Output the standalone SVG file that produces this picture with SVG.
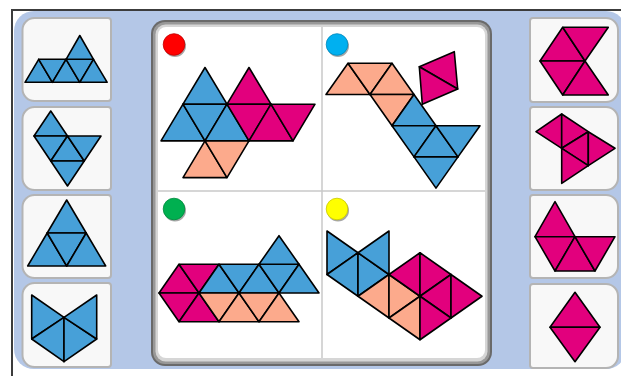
<svg xmlns="http://www.w3.org/2000/svg" width="621" height="376" viewBox="0 0 621 376">
<defs>
<style>
polygon{stroke:#000;stroke-width:1.6;stroke-linejoin:round}
.b{fill:#47A0D8}
.p{fill:#E2007D}
.o{fill:#FCAA8C}
.card{fill:#F8F8F8;stroke:#B4B4B4;stroke-width:2}
.cardin{fill:none;stroke:#E2E2E2;stroke-width:1}
.div{stroke:#C8C8C8;stroke-width:1.5}
.sh{fill:#000;opacity:.35}
</style>
</defs>
<rect x="0" y="0" width="621" height="376" fill="#FFFFFF"/>
<rect x="14" y="11" width="612" height="358" rx="20" fill="#B4C7E7"/>
<path d="M12 376 V10 H621" fill="none" stroke="#3C3C3C" stroke-width="2"/>

<!-- left cards -->
<g id="left-card-1">
<path class="card" d="M34.5 18 H108 Q111 18 111 21 V98 Q111 101 108 101 H34.5 A12 12 0 0 1 22.5 89 V30 A12 12 0 0 1 34.5 18 Z"/>
<polygon class="b" points="38.7,59.3 25,82.3 52.4,82.3"/>
<polygon class="b" points="38.7,59.3 66.1,59.3 52.4,82.3"/>
<polygon class="b" points="66.1,59.3 52.4,82.3 79.8,82.3"/>
<polygon class="b" points="66.1,59.3 93.5,59.3 79.8,82.3"/>
<polygon class="b" points="93.5,59.3 79.8,82.3 107.2,82.3"/>
<polygon class="b" points="79.8,35.5 66.1,59.3 93.5,59.3"/>
</g>
<g id="left-card-2">
<path class="card" d="M34.5 107 H108 Q111 107 111 110 V187 Q111 190 108 190 H34.5 A12 12 0 0 1 22.5 178 V119 A12 12 0 0 1 34.5 107 Z"/>
<polygon class="b" points="50.75,111 34,136 67.5,136"/>
<polygon class="b" points="34,136 67.5,136 50.75,161"/>
<polygon class="b" points="67.5,136 50.75,161 84.25,161"/>
<polygon class="b" points="67.5,136 101,136 84.25,161"/>
<polygon class="b" points="50.75,161 84.25,161 67.5,186"/>
</g>
<g id="left-card-3">
<path class="card" d="M34.5 195 H108 Q111 195 111 198 V275 Q111 278 108 278 H34.5 A12 12 0 0 1 22.5 266 V207 A12 12 0 0 1 34.5 195 Z"/>
<polygon class="b" points="66.7,200 47.2,233 86.2,233"/>
<polygon class="b" points="47.2,233 27.7,266 66.7,266"/>
<polygon class="b" points="47.2,233 86.2,233 66.7,266"/>
<polygon class="b" points="86.2,233 66.7,266 105.7,266"/>
</g>
<g id="left-card-4">
<path class="card" d="M34.5 283 H108 Q111 283 111 286 V364 Q111 367 108 367 H34.5 A12 12 0 0 1 22.5 355 V295 A12 12 0 0 1 34.5 283 Z"/>
<polygon class="b" points="31.7,295 64,317.3 31.7,339"/>
<polygon class="b" points="31.7,339 64,317.3 64,361.7"/>
<polygon class="b" points="64,317.3 96.7,339 64,361.7"/>
<polygon class="b" points="64,317.3 96.7,295 96.7,339"/>
</g>

<!-- right cards -->
<g id="right-card-1">
<path class="card" d="M533 18 H606 A12 12 0 0 1 618 30 V90 A12 12 0 0 1 606 102 H533 Q530 102 530 99 V21 Q530 18 533 18 Z"/>
<polygon class="p" points="562.7,27.3 540,61 585,61"/>
<polygon class="p" points="562.7,27.3 608.3,27.3 585,61"/>
<polygon class="p" points="540,61 585,61 562.7,95"/>
<polygon class="p" points="585,61 562.7,95 608.3,95"/>
</g>
<g id="right-card-2">
<path class="card" d="M533 107 H606 A12 12 0 0 1 618 119 V178 A12 12 0 0 1 606 190 H533 Q530 190 530 187 V110 Q530 107 533 107 Z"/>
<polygon class="p" points="561.7,114 536,131.7 561.7,148.3"/>
<polygon class="p" points="561.7,114 588.3,131.7 561.7,148.3"/>
<polygon class="p" points="588.3,131.7 561.7,148.3 588.3,165.7"/>
<polygon class="p" points="588.3,131.7 615,148.3 588.3,165.7"/>
<polygon class="p" points="561.7,148.3 588.3,165.7 561.7,183.3"/>
</g>
<g id="right-card-3">
<path class="card" d="M533 195 H606 A12 12 0 0 1 618 207 V266 A12 12 0 0 1 606 278 H533 Q530 278 530 275 V198 Q530 195 533 195 Z"/>
<polygon class="p" points="555,201.7 535,236.7 575,236.7"/>
<polygon class="p" points="535,236.7 575,236.7 555,271"/>
<polygon class="p" points="575,236.7 555,271 595,271"/>
<polygon class="p" points="575,236.7 615,236.7 595,271"/>
</g>
<g id="right-card-4">
<path class="card" d="M533 284 H606 A12 12 0 0 1 618 296 V356 A12 12 0 0 1 606 368 H533 Q530 368 530 365 V287 Q530 284 533 284 Z"/>
<polygon class="p" points="575,292.3 550,327.3 600,327.3"/>
<polygon class="p" points="550,327.3 600,327.3 575,361.7"/>
</g>

<!-- central board -->
<g id="board">
<rect x="151" y="20" width="341" height="346" rx="14" fill="#6A6A6A"/>
<rect x="153" y="22" width="337" height="342" rx="12" fill="#989898"/>
<rect x="155.5" y="24.5" width="332" height="337" rx="10" fill="#D6D6D6"/>
<rect x="158" y="27" width="327" height="331" rx="8" fill="#FFFFFF"/>
<line class="div" x1="322" y1="27" x2="322" y2="358"/>
<line class="div" x1="158" y1="191" x2="485" y2="191"/>
</g>

<g id="quadrant-red">
<circle class="sh" cx="175" cy="46" r="11"/>
<circle cx="174" cy="44.5" r="10.8" fill="#FF0000" stroke="#C00000" stroke-width="0.8"/>
<polygon class="b" points="205,67.5 183,104.2 227,104.2"/>
<polygon class="b" points="183,104.2 161,140.9 205,140.9"/>
<polygon class="b" points="183,104.2 227,104.2 205,140.9"/>
<polygon class="b" points="227,104.2 205,140.9 249,140.9"/>
<polygon class="p" points="249,67.5 227,104.2 271,104.2"/>
<polygon class="p" points="227,104.2 271,104.2 249,140.9"/>
<polygon class="p" points="271,104.2 249,140.9 293,140.9"/>
<polygon class="p" points="271,104.2 315,104.2 293,140.9"/>
<polygon class="o" points="205,140.9 183,177.6 227,177.6"/>
<polygon class="o" points="205,140.9 249,140.9 227,177.6"/>
</g>

<g id="quadrant-cyan">
<circle class="sh" cx="338" cy="46" r="11"/>
<circle cx="337" cy="44.5" r="10.8" fill="#00B0F0" stroke="#0088BB" stroke-width="0.8"/>
<polygon class="o" points="348,63.3 326,94.5 370,94.5"/>
<polygon class="o" points="348,63.3 392,63.3 370,94.5"/>
<polygon class="o" points="392,63.3 370,94.5 414,94.5"/>
<polygon class="o" points="370,94.5 414,94.5 392,125.7"/>
<polygon class="b" points="414,94.5 392,125.7 436,125.7"/>
<polygon class="b" points="392,125.7 436,125.7 414,156.9"/>
<polygon class="b" points="436,125.7 414,156.9 458,156.9"/>
<polygon class="b" points="436,125.7 480,125.7 458,156.9"/>
<polygon class="b" points="414,156.9 458,156.9 436,188.1"/>
<polygon class="p" points="419.3,66.7 454.3,51.7 457.7,89"/>
<polygon class="p" points="419.3,66.7 457.7,89 422.3,104.3"/>
</g>

<g id="quadrant-green">
<circle class="sh" cx="175" cy="210.5" r="11"/>
<circle cx="174" cy="209" r="10.8" fill="#00B050" stroke="#008A3E" stroke-width="0.8"/>
<polygon class="p" points="179,264.3 159,293 199,293"/>
<polygon class="p" points="179,264.3 219,264.3 199,293"/>
<polygon class="p" points="159,293 199,293 179,321.7"/>
<polygon class="p" points="199,293 179,321.7 219,321.7"/>
<polygon class="b" points="219,264.3 199,293 239,293"/>
<polygon class="b" points="219,264.3 259,264.3 239,293"/>
<polygon class="b" points="259,264.3 239,293 279,293"/>
<polygon class="b" points="259,264.3 299,264.3 279,293"/>
<polygon class="b" points="299,264.3 279,293 319,293"/>
<polygon class="b" points="279,235.7 259,264.3 299,264.3"/>
<polygon class="o" points="199,293 239,293 219,321.7"/>
<polygon class="o" points="239,293 219,321.7 259,321.7"/>
<polygon class="o" points="239,293 279,293 259,321.7"/>
<polygon class="o" points="279,293 259,321.7 299,321.7"/>
</g>

<g id="quadrant-yellow">
<circle class="sh" cx="338" cy="210.5" r="11"/>
<circle cx="337" cy="209" r="10.8" fill="#FFFF00" stroke="#C8C800" stroke-width="0.8"/>
<polygon class="b" points="327,231 358,252.75 327,274.5"/>
<polygon class="b" points="327,274.5 358,252.75 358,296.25"/>
<polygon class="b" points="358,252.75 389,274.5 358,296.25"/>
<polygon class="b" points="358,252.75 389,231 389,274.5"/>
<polygon class="o" points="389,274.5 358,296.25 389,318"/>
<polygon class="o" points="389,274.5 389,318 420,296.25"/>
<polygon class="o" points="389,318 420,296.25 420,339.75"/>
<polygon class="p" points="389,274.5 420,252.75 420,296.25"/>
<polygon class="p" points="420,252.75 451,274.5 420,296.25"/>
<polygon class="p" points="420,296.25 451,274.5 451,318"/>
<polygon class="p" points="451,274.5 482,296.25 451,318"/>
<polygon class="p" points="420,296.25 451,318 420,339.75"/>
</g>
</svg>
